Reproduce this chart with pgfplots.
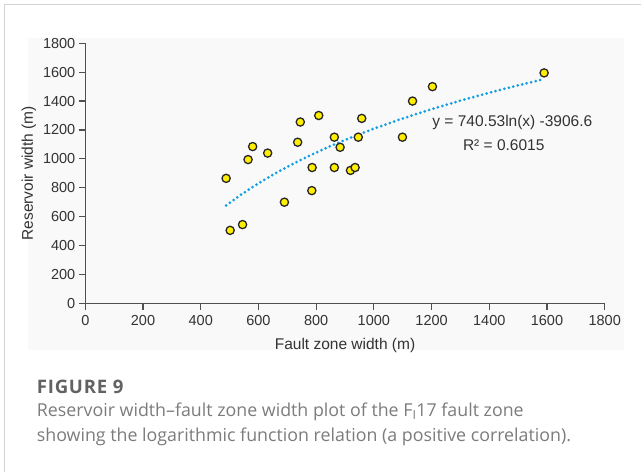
\documentclass[border=0pt]{standalone}
\usepackage{pgfplots}
\pgfplotsset{compat=1.18}
\usepackage{fontspec}
\setmainfont{Liberation Sans}
\newfontfamily\capfont{Open Sans}
\newfontfamily\capfontbold{Open Sans}[UprightFont=* Bold, LetterSpace=4]

\definecolor{framegray}{HTML}{D2D2D2}
\definecolor{panelgray}{HTML}{F9F9F9}
\definecolor{axisgray}{HTML}{505050}
\definecolor{textgray}{HTML}{333333}
\definecolor{trendblue}{RGB}{20,158,226}
\definecolor{markyellow}{RGB}{255,238,0}
\definecolor{capdark}{HTML}{626262}
\definecolor{caplight}{HTML}{7C7C7C}

% Fault zone width (m) vs reservoir width (m)
\pgfplotstableread{
x     y
488   865
502   505
545   545
564   995
580   1085
632   1040
690   700
736   1115
745   1255
785   780
786   940
809   1300
863   1150
863   940
883   1080
919   920
935   940
946   1150
958   1280
1099  1150
1134  1400
1203  1500
1590  1595
}\datatable

% Logarithmic trend line y = 740.53 ln(x) - 3906.6
\pgfplotstableread{
x     y
488   677.5
540   752.5
600   830.5
650   889.8
700   944.7
750   995.8
800   1043.6
850   1088.4
900   1130.8
950   1170.8
1000  1208.8
1100  1279.4
1200  1343.8
1300  1403.1
1400  1458.0
1500  1509.1
1590  1552.2
}\trendtable

\begin{document}
\begin{tikzpicture}
% page frame, caption and chart panel (pixel-style coordinates, y downwards)
\begin{scope}[x=1bp,y=-1bp,yshift=472bp]
  \path[use as bounding box] (0,0) rectangle (641,472);
  \fill[white] (0,0) rectangle (641,472);
  \draw[framegray,line width=1.4bp] (4.3,472) -- (4.3,4.7) -- (641,4.7);
  \fill[panelgray] (28.3,37.7) rectangle (624,350);
  \node[anchor=base west,inner sep=0pt,text=capdark,font=\capfontbold\fontsize{18.6bp}{22bp}\selectfont]
    at (36.7,394) {FIGURE 9};
  \node[anchor=base west,inner sep=0pt,text=caplight,font=\capfont\fontsize{17.8bp}{22bp}\selectfont]
    at (36.7,416.7) {Reservoir width–fault zone width plot of the F\textsubscript{I}17 fault zone};
  \node[anchor=base west,inner sep=0pt,text=caplight,font=\capfont\fontsize{17.8bp}{22bp}\selectfont]
    at (36.7,441.7) {showing the logarithmic function relation (a positive correlation).};
\end{scope}

\begin{axis}[
  at={(85.3bp,168.7bp)}, anchor=south west,
  scale only axis, width=519.4bp, height=260bp,
  xmin=0, xmax=1800, ymin=0, ymax=1800,
  xtick={0,200,...,1800}, ytick={0,200,...,1800},
  axis x line=bottom, axis y line=left,
  axis line style={-, draw=axisgray, line width=1.3bp},
  tick style={draw=axisgray, line width=1.2bp},
  tick align=outside, major tick length=6.5bp,
  ticklabel style={font=\fontsize{14.5bp}{16bp}\selectfont, text=textgray},
  xticklabel style={yshift=-2bp},
  /pgf/number format/assume math mode=true,
  /pgf/number format/set thousands separator={},
  xlabel={Fault zone width (m)}, ylabel={Reservoir width (m)},
  label style={font=\fontsize{15.5bp}{17bp}\selectfont, text=textgray},
  xlabel style={yshift=-6bp},
  clip=false,
]
\addplot[trendblue, line width=3bp, line cap=round, dash pattern=on 0bp off 4.6bp]
  table[x=x,y=y] {\trendtable};
\addplot[only marks, mark=*, mark size=4.1bp,
  mark options={fill=markyellow, draw=black!85, line width=1.3bp}]
  table[x=x,y=y] {\datatable};
\node[anchor=center, font=\fontsize{15.5bp}{17bp}\selectfont, text=textgray]
  at (axis cs:1480,1252) {y = 740.53ln(x) -3906.6};
\node[anchor=center, font=\fontsize{15.5bp}{17bp}\selectfont, text=textgray]
  at (axis cs:1450,1096) {R² = 0.6015};
\end{axis}
\end{tikzpicture}
\end{document}
